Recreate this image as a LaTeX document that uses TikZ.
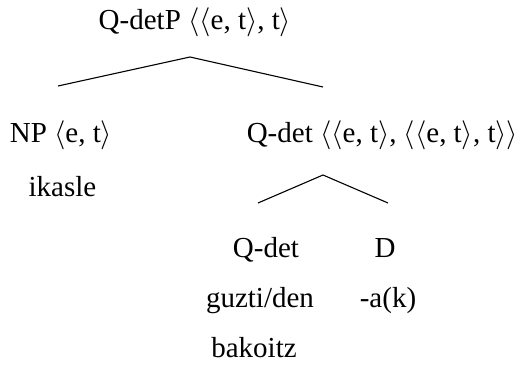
\RequirePackage{fix-cm}
\documentclass[tikz,border=0pt]{standalone}
\usepackage{fontspec}
\setmainfont{Liberation Serif}
\newcommand{\la}{$\langle$}
\newcommand{\ra}{$\rangle$}
\begin{document}
\begin{tikzpicture}[x=1pt,y=-1pt,
  lbl/.style={anchor=base,inner sep=0pt,font=\fontsize{29}{34}\selectfont},
  branch/.style={line width=1.1pt}]
\useasboundingbox (0,0) rectangle (520,366);
% labels
\node[lbl] (root) at (195,30) {Q-detP \la\la e, t\ra, t\ra};
\node[lbl] (np) at (61,143) {NP \la e, t\ra};
\node[lbl] (npw) at (62.5,197) {ikasle};
\node[lbl] (qd) at (382.5,143) {Q-det \la\la e, t\ra, \la\la e, t\ra, t\ra\ra};
\node[lbl] (qdet) at (266,258) {Q-det};
\node[lbl] (d) at (385,258) {D};
\node[lbl] (qw1) at (260,308) {guzti/den};
\node[lbl] (dw) at (388,308) {-a(k)};
\node[lbl] (qw2) at (254,358) {bakoitz};
% branch points
\coordinate (top1) at (190,57);
\coordinate (l1) at (58,86);
\coordinate (r1) at (323,87);
\coordinate (top2) at (323,175);
\coordinate (l2) at (258,203);
\coordinate (r2) at (388,203);
\draw[branch] (l1) -- (top1) -- (r1);
\draw[branch] (l2) -- (top2) -- (r2);
\end{tikzpicture}
\end{document}
